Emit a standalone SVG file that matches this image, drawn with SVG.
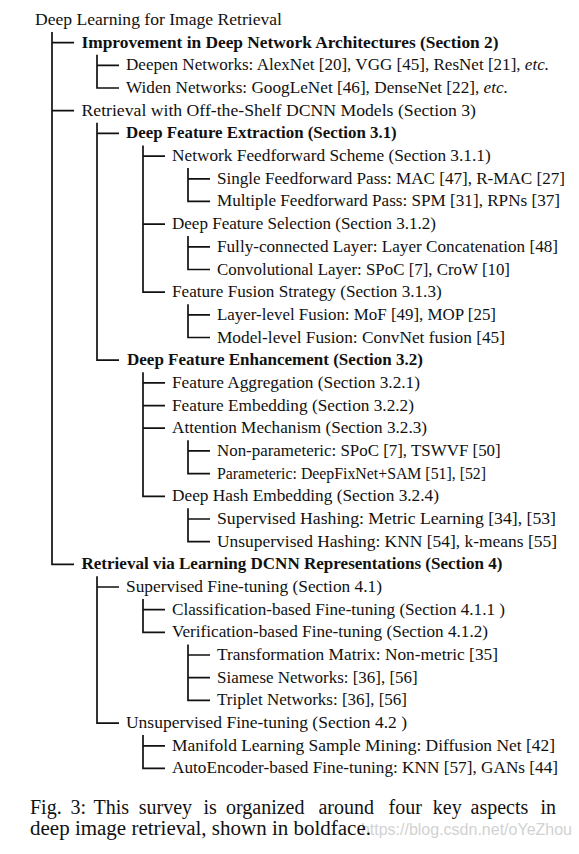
<svg xmlns="http://www.w3.org/2000/svg" width="579" height="854" viewBox="0 0 579 854">
<style>
.t{font-family:"Liberation Serif","Times New Roman",serif;font-size:17px;fill:#111;}
.cap{font-family:"Liberation Serif","Times New Roman",serif;font-size:20px;fill:#111;}
.b{font-weight:bold;}
.i{font-style:italic;}
.c path{stroke:#111;stroke-width:1.7;fill:none;stroke-linejoin:miter;}
.w{font-family:"Liberation Sans",Arial,sans-serif;font-size:16px;fill:#d2d2d2;}
</style>
<rect width="579" height="854" fill="#fff"/>
<g class="c" id="connectors">
<path d="M52,32 V564.3 H74 M52,42.7 H74 M52,110.7 H74"/>
<path d="M97,54.7 V88 H119 M97,65.4 H119"/>
<path d="M97,122.7 V360.2 H119 M97,133.4 H119"/>
<path d="M143,145.4 V292.2 H165 M143,156.1 H165 M143,224.1 H165"/>
<path d="M188,168.1 V201.4 H210 M188,178.8 H210"/>
<path d="M188,236.1 V269.5 H210 M188,246.8 H210"/>
<path d="M188,304.2 V337.5 H210 M188,314.8 H210"/>
<path d="M143,372.2 V496.3 H165 M143,382.9 H165 M143,405.6 H165 M143,428.2 H165"/>
<path d="M188,440.2 V473.6 H210 M188,450.9 H210"/>
<path d="M188,508.3 V541.6 H210 M188,519 H210"/>
<path d="M97,576.3 V723.1 H119 M97,587 H119"/>
<path d="M143,599 V632.4 H165 M143,609.7 H165"/>
<path d="M188,644.4 V700.4 H210 M188,655 H210 M188,677.7 H210"/>
<path d="M143,735.1 V768.4 H165 M143,745.8 H165"/>
</g>
<g id="n0"><text class="t" x="35" y="25" textLength="247" lengthAdjust="spacingAndGlyphs">Deep Learning for Image Retrieval</text></g>
<g id="n1"><text class="t b" x="81.5" y="47.7" textLength="417" lengthAdjust="spacingAndGlyphs">Improvement in Deep Network Architectures (Section 2)</text></g>
<g id="n2"><text class="t" x="126" y="70.4" textLength="423" lengthAdjust="spacingAndGlyphs">Deepen Networks: AlexNet [20], VGG [45], ResNet [21], <tspan class="i">etc.</tspan></text></g>
<g id="n3"><text class="t" x="126" y="93" textLength="382" lengthAdjust="spacingAndGlyphs">Widen Networks: GoogLeNet [46], DenseNet [22], <tspan class="i">etc.</tspan></text></g>
<g id="n4"><text class="t" x="81.5" y="115.7" textLength="394.5" lengthAdjust="spacingAndGlyphs">Retrieval with Off-the-Shelf DCNN Models (Section 3)</text></g>
<g id="n5"><text class="t b" x="126" y="138.4" textLength="270.7" lengthAdjust="spacingAndGlyphs">Deep Feature Extraction (Section 3.1)</text></g>
<g id="n6"><text class="t" x="172" y="161.1" textLength="318.7" lengthAdjust="spacingAndGlyphs">Network Feedforward Scheme (Section 3.1.1)</text></g>
<g id="n7"><text class="t" x="217" y="183.8" textLength="348" lengthAdjust="spacingAndGlyphs">Single Feedforward Pass: MAC [47], R-MAC [27]</text></g>
<g id="n8"><text class="t" x="217" y="206.4" textLength="343" lengthAdjust="spacingAndGlyphs">Multiple Feedforward Pass: SPM [31], RPNs [37]</text></g>
<g id="n9"><text class="t" x="172" y="229.1" textLength="264" lengthAdjust="spacingAndGlyphs">Deep Feature Selection (Section 3.1.2)</text></g>
<g id="n10"><text class="t" x="217" y="251.8" textLength="341" lengthAdjust="spacingAndGlyphs">Fully-connected Layer: Layer Concatenation [48]</text></g>
<g id="n11"><text class="t" x="217" y="274.5" textLength="293" lengthAdjust="spacingAndGlyphs">Convolutional Layer: SPoC [7], CroW [10]</text></g>
<g id="n12"><text class="t" x="172" y="297.2" textLength="269.7" lengthAdjust="spacingAndGlyphs">Feature Fusion Strategy (Section 3.1.3)</text></g>
<g id="n13"><text class="t" x="217" y="319.8" textLength="279" lengthAdjust="spacingAndGlyphs">Layer-level Fusion: MoF [49], MOP [25]</text></g>
<g id="n14"><text class="t" x="217" y="342.5" textLength="288" lengthAdjust="spacingAndGlyphs">Model-level Fusion: ConvNet fusion [45]</text></g>
<g id="n15"><text class="t b" x="127" y="365.2" textLength="296" lengthAdjust="spacingAndGlyphs">Deep Feature Enhancement (Section 3.2)</text></g>
<g id="n16"><text class="t" x="172" y="387.9" textLength="248" lengthAdjust="spacingAndGlyphs">Feature Aggregation (Section 3.2.1)</text></g>
<g id="n17"><text class="t" x="172" y="410.6" textLength="242" lengthAdjust="spacingAndGlyphs">Feature Embedding (Section 3.2.2)</text></g>
<g id="n18"><text class="t" x="172" y="433.2" textLength="255" lengthAdjust="spacingAndGlyphs">Attention Mechanism (Section 3.2.3)</text></g>
<g id="n19"><text class="t" x="217" y="455.9" textLength="283.7" lengthAdjust="spacingAndGlyphs">Non-parameteric: SPoC [7], TSWVF [50]</text></g>
<g id="n20"><text class="t" x="217" y="478.6" textLength="269" lengthAdjust="spacingAndGlyphs">Parameteric: DeepFixNet+SAM [51], [52]</text></g>
<g id="n21"><text class="t" x="172" y="501.3" textLength="267" lengthAdjust="spacingAndGlyphs">Deep Hash Embedding (Section 3.2.4)</text></g>
<g id="n22"><text class="t" x="217" y="524" textLength="339" lengthAdjust="spacingAndGlyphs">Supervised Hashing: Metric Learning [34], [53]</text></g>
<g id="n23"><text class="t" x="217" y="546.6" textLength="340" lengthAdjust="spacingAndGlyphs">Unsupervised Hashing: KNN [54], k-means [55]</text></g>
<g id="n24"><text class="t b" x="81.5" y="569.3" textLength="421" lengthAdjust="spacingAndGlyphs">Retrieval via Learning DCNN Representations (Section 4)</text></g>
<g id="n25"><text class="t" x="126" y="592" textLength="256" lengthAdjust="spacingAndGlyphs">Supervised Fine-tuning (Section 4.1)</text></g>
<g id="n26"><text class="t" x="172" y="614.7" textLength="333" lengthAdjust="spacingAndGlyphs">Classification-based Fine-tuning (Section 4.1.1 )</text></g>
<g id="n27"><text class="t" x="172" y="637.4" textLength="316" lengthAdjust="spacingAndGlyphs">Verification-based Fine-tuning (Section 4.1.2)</text></g>
<g id="n28"><text class="t" x="217" y="660" textLength="281" lengthAdjust="spacingAndGlyphs">Transformation Matrix: Non-metric [35]</text></g>
<g id="n29"><text class="t" x="217" y="682.7" textLength="200.7" lengthAdjust="spacingAndGlyphs">Siamese Networks: [36], [56]</text></g>
<g id="n30"><text class="t" x="217" y="705.4" textLength="190" lengthAdjust="spacingAndGlyphs">Triplet Networks: [36], [56]</text></g>
<g id="n31"><text class="t" x="126" y="728.1" textLength="281" lengthAdjust="spacingAndGlyphs">Unsupervised Fine-tuning (Section 4.2 )</text></g>
<g id="n32"><text class="t" x="172" y="750.8" textLength="383" lengthAdjust="spacingAndGlyphs">Manifold Learning Sample Mining: Diffusion Net [42]</text></g>
<g id="n33"><text class="t" x="172" y="773.4" textLength="386" lengthAdjust="spacingAndGlyphs">AutoEncoder-based Fine-tuning: KNN [57], GANs [44]</text></g>
<g id="watermark"><text class="w" x="572" y="835" text-anchor="end">https://blog.csdn.net/oYeZhou</text></g>
<g id="caption">
<text class="cap" y="814"><tspan x="30">Fig.</tspan><tspan x="70.4">3:</tspan><tspan x="93.6">This</tspan><tspan x="138.8">survey</tspan><tspan x="203.5">is</tspan><tspan x="226">organized</tspan><tspan x="318.4">around</tspan><tspan x="388.5">four</tspan><tspan x="432.8">key</tspan><tspan x="470.5">aspects</tspan><tspan x="540.5">in</tspan></text>
<text class="cap" x="30" y="835" textLength="341" lengthAdjust="spacingAndGlyphs">deep image retrieval, shown in boldface.</text>
</g>
</svg>
